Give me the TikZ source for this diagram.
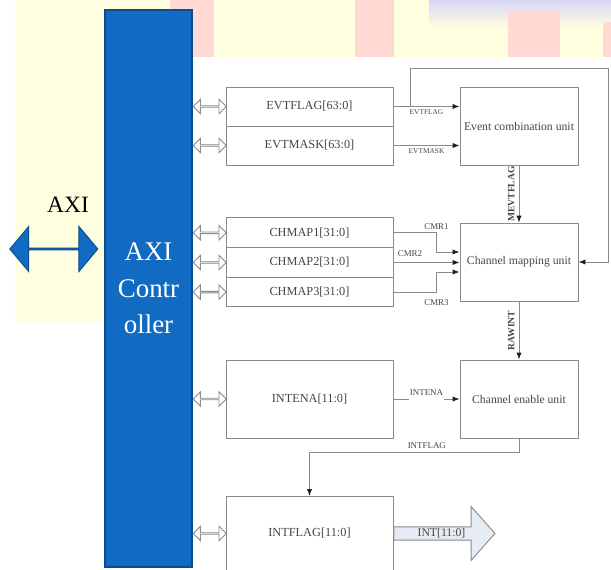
\documentclass[tikz,border=0pt]{standalone}
\usepackage{fontspec}
\setmainfont{Liberation Serif}
\usetikzlibrary{arrows.meta, positioning, shapes.arrows, calc}
\definecolor{cLine}{HTML}{8A8A8A}
\definecolor{cTxt}{HTML}{464646}
\definecolor{cTip}{HTML}{1E1E1E}
\definecolor{cCtrl}{HTML}{116BC2}
\definecolor{cCtrlD}{HTML}{0B4C8E}
\definecolor{cCream}{HTML}{FFFEDE}
\definecolor{cPink}{HTML}{FFDAD5}
\definecolor{cLav}{HTML}{D8D6F8}
\definecolor{cInt}{HTML}{E6ECF3}
\tikzset{
  reg/.style={rectangle, draw=cLine, line width=0.8pt, fill=white, text=cTxt,
              minimum width=50.1mm, inner sep=1pt, font=\fontsize{10.5}{12}\selectfont},
  evt/.style={reg, minimum height=11.7mm},
  chm/.style={reg, minimum height=8.9mm},
  unit/.style={rectangle, draw=cLine, line width=0.8pt, fill=white, text=cTxt,
               minimum width=35.4mm, minimum height=23.4mm, font=\fontsize{10}{12}\selectfont},
  ctrlbox/.style={rectangle, fill=cCtrl, draw=cCtrlD, line width=1pt, text=white, align=center,
                  minimum width=26.1mm, minimum height=167.1mm, font=\fontsize{23}{31}\selectfont},
  bus/.style={double arrow, draw=cLine, fill=white, line width=0.75pt, inner sep=0pt, anchor=west,
              minimum height=9.9mm, minimum width=4.3mm, double arrow head extend=1.1mm},
  axibus/.style={double arrow, draw=cCtrlD, fill=cCtrl, line width=0.8pt, inner sep=0pt,
                 minimum height=26.4mm, minimum width=13.5mm, double arrow head extend=3.45mm,
                 double arrow tip angle=100},
  intbus/.style={single arrow, draw=cLine, fill=cInt, line width=0.8pt, inner sep=0.5pt, anchor=west,
                 minimum height=30.3mm, minimum width=16.2mm, single arrow head extend=5.4mm,
                 single arrow tip angle=97, text=cTxt, font=\fontsize{10}{12}\selectfont},
  sig/.style={-{Latex[length=2.1mm, width=1.6mm, color=cTip]}, line width=0.8pt, draw=cLine},
  lbl/.style={font=\fontsize{7.6}{8}\selectfont, text=cTxt, inner sep=1pt},
  slbl/.style={lbl, font=\fontsize{6.3}{7}\selectfont},
  vlbl/.style={lbl, font=\fontsize{8.2}{9}\selectfont\bfseries, rotate=90, anchor=south, inner ysep=3.5pt},
}

\begin{document}
\begin{tikzpicture}[x=0.3mm, y=-0.3mm]
  \useasboundingbox (0,0) rectangle (611,570);
  \clip (0,0) rectangle (611,569.2);

  % ---- slide background
  \fill[white] (0,0) rectangle (611,570);
  \fill[cCream] (15,0) rectangle (611,57);
  \fill[cCream] (15,57) rectangle (105,322);
  \fill[cPink] (170,0) rectangle (214,57);
  \fill[cPink] (355,0) rectangle (394,57);
  \shade[top color=cLav, bottom color=cCream] (429,0) rectangle (611,28);
  \fill[cPink] (508,12) rectangle (560,57);
  \fill[cPink] (603,22) rectangle (611,57);

  % ---- AXI controller and external bus
  \node[ctrlbox] (ctrl) at (148.5,288.5) {AXI\\Contr\\oller};
  \node[axibus, anchor=east] (axi) at ([xshift=-1.8mm]ctrl.west |- 0,249) {};
  \node[font=\fontsize{20}{22}\selectfont] (axilbl) at (68,205) {AXI};

  % ---- registers
  \node[evt] (evtflag) at (309.5,106.5) {EVTFLAG[63:0]};
  \node[evt, below=-0.8pt of evtflag] (evtmask) {EVTMASK[63:0]};
  \node[chm] (chmap1) at (309.5,232.8) {CHMAP1[31:0]};
  \node[chm, below=-0.8pt of chmap1] (chmap2) {CHMAP2[31:0]};
  \node[chm, below=-0.8pt of chmap2] (chmap3) {CHMAP3[31:0]};
  \node[reg, minimum height=23.4mm] (intena) at (309.5,399) {INTENA[11:0]};
  \node[reg, minimum height=22.2mm, anchor=north] (intflag) at (309.5,496) {INTFLAG[11:0]};

  \foreach \r in {evtflag, evtmask, chmap1, chmap2, chmap3, intena, intflag}
    \node[bus] (bus-\r) at (ctrl.east |- \r.west) {};

  % ---- processing units
  \node[unit] (ecu) at (519,126) {Event combination unit};
  \node[unit] (cmu) at (519,262) {Channel mapping unit};
  \node[unit] (ceu) at (519,399) {Channel enable unit};

  % ---- event flags into the combination unit
  \draw[sig] (evtflag.east) -- (evtflag.east -| ecu.west) node[slbl, midway, below=1pt] {EVTFLAG};
  \draw[sig] (evtmask.east) -- (evtmask.east -| ecu.west) node[slbl, midway, below=1pt] {EVTMASK};
  \coordinate (fbtap) at ($(evtflag.east)!0.25!(evtflag.east -| ecu.west)$);
  \coordinate (fbtop) at (608,68);
  \draw[sig] (fbtap) |- (fbtop) |- (cmu.east);
  \draw[sig] (ecu.south) -- (cmu.north) node[vlbl, midway] {MEVTFLAG};

  % ---- channel map registers
  \draw[sig] (chmap1.east) -- ++(43,0) node[lbl, at end, above=1pt] {CMR1} |- ($(cmu.west)+(0,-10)$);
  \draw[sig] (chmap2.east) -- (chmap2.east -| cmu.west) node[lbl, pos=0.25, above=4pt] {CMR2};
  \draw[sig] (chmap3.east) -- ++(43,0) node[lbl, at end, below=5pt] {CMR3} |- ($(cmu.west)+(0,10)$);
  \draw[sig] (cmu.south) -- (ceu.north) node[vlbl, midway] {RAWINT};

  % ---- enable and interrupt flags
  \draw[sig] (intena.east) -- (ceu.west)
    node[lbl, midway, anchor=base, yshift=1.2mm, fill=white, text depth=4pt] {INTENA};
  \draw[sig] (ceu.south) -- ++(0,14) -| (intflag.north) node[lbl, pos=0.22, above=1.5pt] {INTFLAG};
  \node[intbus] (int) at (intflag.east) {INT[11:0]};
\end{tikzpicture}
\end{document}
